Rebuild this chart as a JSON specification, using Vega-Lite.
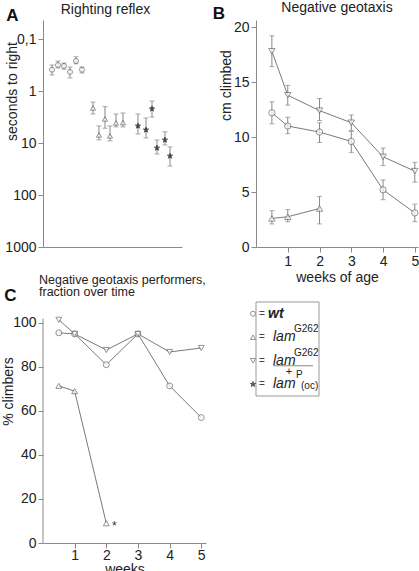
{
  "$schema": "https://vega.github.io/schema/vega-lite/v6.json",
  "background": "white",
  "padding": {"left": 1, "top": 0, "right": 2, "bottom": 0},
  "config": {
    "font": "Liberation Sans",
    "view": {"stroke": null},
    "axis": {"domainColor": "#8a8a8a", "tickColor": "#8a8a8a", "labelColor": "#222", "titleColor": "#222", "labelFontSize": 14, "titleFontSize": 14, "titleFontWeight": "normal", "grid": false, "tickSize": 5, "labelPadding": 2},
    "title": {"fontWeight": "normal", "color": "#222"}
  },
  "datasets": {
    "righting": [
      {"idx": 1.5, "genotype": "wt", "val": 0.39, "lo": 0.316, "hi": 0.49},
      {"idx": 2.5, "genotype": "wt", "val": 0.316, "lo": 0.265, "hi": 0.36},
      {"idx": 3.5, "genotype": "wt", "val": 0.33, "lo": 0.29, "hi": 0.38},
      {"idx": 4.5, "genotype": "wt", "val": 0.43, "lo": 0.345, "hi": 0.56},
      {"idx": 5.5, "genotype": "wt", "val": 0.265, "lo": 0.22, "hi": 0.30},
      {"idx": 6.5, "genotype": "wt", "val": 0.39, "lo": 0.345, "hi": 0.45},
      {"idx": 8.33, "genotype": "lamG262", "val": 2.12, "lo": 1.63, "hi": 2.77},
      {"idx": 9.33, "genotype": "lamG262", "val": 7.0, "lo": 4.7, "hi": 8.7},
      {"idx": 10.33, "genotype": "lamG262", "val": 3.45, "lo": 2.0, "hi": 5.2},
      {"idx": 11.17, "genotype": "lamG262", "val": 7.3, "lo": 4.7, "hi": 9.1},
      {"idx": 12.17, "genotype": "lamG262", "val": 4.1, "lo": 2.77, "hi": 4.9},
      {"idx": 13.33, "genotype": "lamG262", "val": 4.05, "lo": 2.65, "hi": 4.9},
      {"idx": 15.83, "genotype": "lamP", "val": 4.7, "lo": 2.77, "hi": 6.7},
      {"idx": 17.17, "genotype": "lamP", "val": 5.6, "lo": 3.3, "hi": 8.0},
      {"idx": 18.17, "genotype": "lamP", "val": 2.2, "lo": 1.56, "hi": 3.16},
      {"idx": 19.0, "genotype": "lamP", "val": 12.5, "lo": 8.75, "hi": 16.3},
      {"idx": 20.33, "genotype": "lamP", "val": 8.75, "lo": 6.1, "hi": 10.9},
      {"idx": 21.17, "genotype": "lamP", "val": 17.8, "lo": 11.9, "hi": 27.7}
    ],
    "geotaxis": [
      {"week": 0.5, "genotype": "wt", "mean": 12.2, "lo": 11.2, "hi": 13.2},
      {"week": 1, "genotype": "wt", "mean": 11.0, "lo": 10.3, "hi": 11.8},
      {"week": 2, "genotype": "wt", "mean": 10.45, "lo": 9.5, "hi": 11.3},
      {"week": 3, "genotype": "wt", "mean": 9.6, "lo": 8.6, "hi": 10.5},
      {"week": 4, "genotype": "wt", "mean": 5.2, "lo": 4.3, "hi": 6.1},
      {"week": 5, "genotype": "wt", "mean": 3.1, "lo": 2.3, "hi": 3.9},
      {"week": 0.5, "genotype": "lamG262/+", "mean": 17.8, "lo": 16.4, "hi": 19.2},
      {"week": 1, "genotype": "lamG262/+", "mean": 13.8, "lo": 12.9, "hi": 14.7},
      {"week": 2, "genotype": "lamG262/+", "mean": 12.4, "lo": 11.5, "hi": 13.5},
      {"week": 3, "genotype": "lamG262/+", "mean": 11.3, "lo": 10.6, "hi": 12.0},
      {"week": 4, "genotype": "lamG262/+", "mean": 8.2, "lo": 7.4, "hi": 9.0},
      {"week": 5, "genotype": "lamG262/+", "mean": 6.9, "lo": 5.9, "hi": 7.7},
      {"week": 0.5, "genotype": "lamG262", "mean": 2.6, "lo": 2.1, "hi": 3.3},
      {"week": 1, "genotype": "lamG262", "mean": 2.75, "lo": 2.3, "hi": 3.4},
      {"week": 2, "genotype": "lamG262", "mean": 3.5, "lo": 2.1, "hi": 4.6}
    ],
    "performers": [
      {"week": 0.5, "genotype": "wt", "pct": 95.5},
      {"week": 1, "genotype": "wt", "pct": 95},
      {"week": 2, "genotype": "wt", "pct": 81},
      {"week": 3, "genotype": "wt", "pct": 95},
      {"week": 4, "genotype": "wt", "pct": 71.4},
      {"week": 5, "genotype": "wt", "pct": 57},
      {"week": 0.5, "genotype": "lamG262/+", "pct": 101.4},
      {"week": 1, "genotype": "lamG262/+", "pct": 95},
      {"week": 2, "genotype": "lamG262/+", "pct": 87.7},
      {"week": 3, "genotype": "lamG262/+", "pct": 95},
      {"week": 4, "genotype": "lamG262/+", "pct": 86.8},
      {"week": 5, "genotype": "lamG262/+", "pct": 88.6},
      {"week": 0.5, "genotype": "lamG262", "pct": 71.4},
      {"week": 1, "genotype": "lamG262", "pct": 69},
      {"week": 2, "genotype": "lamG262", "pct": 9, "note": "*"}
    ],
    "legend": [
      {"genotype": "wt", "name": "wt"},
      {"genotype": "lamG262", "name": "lam", "sup": "G262"},
      {"genotype": "lamG262/+", "name": "lam", "sup": "G262", "den": "+"},
      {"genotype": "lamP", "name": "lam", "sup": "P", "sub": "(oc)"}
    ]
  },
  "columns": 2,
  "spacing": {"column": 50, "row": 55},
  "bounds": "flush",
  "align": "each",
  "concat": [
    {
      "width": 139,
      "height": 227,
      "title": {"text": "Righting reflex", "fontSize": 14, "anchor": "middle", "frame": "group", "dx": -7, "offset": -10},
      "data": {"name": "righting"},
      "layer": [
        {
          "mark": {"type": "errorbar", "ticks": {"size": 5}, "color": "#888"},
          "encoding": {
            "x": {"field": "idx", "type": "quantitative", "scale": {"domain": [0, 23.17], "nice": false, "zero": false}, "axis": {"labels": false, "ticks": false, "title": null}},
            "y": {"field": "lo", "type": "quantitative", "scale": {"type": "log", "domain": [0.0431, 1000], "reverse": true, "nice": false}, "axis": {"values": [0.1, 1, 10, 100, 1000], "labelExpr": "datum.value < 1 ? '0,1' : format(datum.value, 'd')", "title": "seconds to right", "titleX": -31, "titleY": 71, "titleBaseline": "middle"}},
            "y2": {"field": "hi"}
          }
        },
        {
          "mark": {"type": "point", "filled": true, "strokeWidth": 1},
          "encoding": {
            "x": {"field": "idx", "type": "quantitative"},
            "y": {"field": "val", "type": "quantitative", "title": "seconds to right"},
            "shape": {"field": "genotype", "type": "nominal", "scale": {"domain": ["wt", "lamG262", "lamG262/+", "lamP"], "range": ["circle", "triangle-up", "triangle-down", "M0,-1L0.2245,-0.309L0.951,-0.309L0.363,0.118L0.588,0.809L0,0.382L-0.588,0.809L-0.363,0.118L-0.951,-0.309L-0.2245,-0.309Z"]}, "legend": null},
            "size": {"field": "genotype", "type": "nominal", "scale": {"domain": ["wt", "lamG262", "lamG262/+", "lamP"], "range": [25, 30, 30, 110]}, "legend": null},
            "fill": {"field": "genotype", "type": "nominal", "scale": {"domain": ["wt", "lamG262", "lamG262/+", "lamP"], "range": ["white", "white", "white", "#111"]}, "legend": null},
            "stroke": {"field": "genotype", "type": "nominal", "scale": {"domain": ["wt", "lamG262", "lamG262/+", "lamP"], "range": ["#666", "#666", "#666", "#111"]}, "legend": null}
          }
        },
        {
          "data": {"values": [{"letter": "A"}]},
          "mark": {"type": "text", "fontSize": 17, "fontWeight": "bold", "color": "#111", "dx": -100, "dy": -118},
          "encoding": {"text": {"field": "letter"}}
        }
      ]
    },
    {
      "width": 162,
      "height": 227,
      "title": {"text": "Negative geotaxis", "fontSize": 14, "anchor": "middle", "frame": "group", "offset": -10},
      "data": {"name": "geotaxis"},
      "layer": [
        {
          "mark": {"type": "line", "color": "#7a7a7a", "strokeWidth": 1},
          "encoding": {
            "x": {"field": "week", "type": "quantitative", "scale": {"domain": [0, 5.1], "nice": false, "zero": false}, "axis": {"values": [1, 2, 3, 4, 5], "title": "weeks of age", "titleY": 30, "titleBaseline": "middle"}},
            "y": {"field": "mean", "type": "quantitative", "scale": {"domain": [0, 20.64], "nice": false}, "axis": {"values": [0, 5, 10, 15, 20], "title": "cm climbed", "titleX": -30, "titleY": 65, "titleBaseline": "middle"}},
            "detail": {"field": "genotype"}
          }
        },
        {
          "mark": {"type": "errorbar", "ticks": {"size": 5}, "color": "#888"},
          "encoding": {
            "x": {"field": "week", "type": "quantitative", "title": "weeks of age"},
            "y": {"field": "lo", "type": "quantitative", "title": "cm climbed"},
            "y2": {"field": "hi"}
          }
        },
        {
          "mark": {"type": "point", "filled": true, "size": 40, "strokeWidth": 1},
          "encoding": {
            "x": {"field": "week", "type": "quantitative", "title": "weeks of age"},
            "y": {"field": "mean", "type": "quantitative", "title": "cm climbed"},
            "shape": {"field": "genotype", "type": "nominal", "scale": {"domain": ["wt", "lamG262", "lamG262/+", "lamP"], "range": ["circle", "triangle-up", "triangle-down", "M0,-1L0.2245,-0.309L0.951,-0.309L0.363,0.118L0.588,0.809L0,0.382L-0.588,0.809L-0.363,0.118L-0.951,-0.309L-0.2245,-0.309Z"]}, "legend": null},
            "fill": {"field": "genotype", "type": "nominal", "scale": {"domain": ["wt", "lamG262", "lamG262/+", "lamP"], "range": ["white", "white", "white", "#111"]}, "legend": null},
            "stroke": {"field": "genotype", "type": "nominal", "scale": {"domain": ["wt", "lamG262", "lamG262/+", "lamP"], "range": ["#666", "#666", "#666", "#111"]}, "legend": null}
          }
        },
        {
          "data": {"values": [{"letter": "B"}]},
          "mark": {"type": "text", "fontSize": 17, "fontWeight": "bold", "color": "#111", "dx": -118, "dy": -120},
          "encoding": {"text": {"field": "letter"}}
        }
      ]
    },
    {
      "width": 163,
      "height": 241,
      "title": {"text": ["Negative geotaxis performers,", "fraction over time"], "fontSize": 12.5, "anchor": "start", "frame": "group", "dx": -4, "offset": -12, "lineHeight": 12.5},
      "data": {"name": "performers"},
      "layer": [
        {
          "data": {"values": [{}]},
          "mark": {"type": "rule", "color": "#8a8a8a"},
          "encoding": {"x": {"datum": 0, "type": "quantitative"}, "y": {"datum": 0, "type": "quantitative"}, "y2": {"datum": 102}}
        },
        {
          "mark": {"type": "line", "color": "#7a7a7a", "strokeWidth": 1},
          "encoding": {
            "x": {"field": "week", "type": "quantitative", "scale": {"domain": [0, 5.15], "nice": false, "zero": false}, "axis": {"values": [1, 2, 3, 4, 5], "labelPadding": 0, "title": "weeks", "titleY": 26, "titleBaseline": "middle"}},
            "y": {"field": "pct", "type": "quantitative", "scale": {"domain": [0, 109.5], "nice": false}, "axis": {"values": [0, 20, 40, 60, 80, 100], "domain": false, "title": "% climbers", "titleX": -35, "titleY": 89, "titleBaseline": "middle"}},
            "detail": {"field": "genotype"}
          }
        },
        {
          "mark": {"type": "point", "filled": true, "size": 35, "strokeWidth": 1},
          "encoding": {
            "x": {"field": "week", "type": "quantitative", "title": "weeks"},
            "y": {"field": "pct", "type": "quantitative", "title": "% climbers"},
            "shape": {"field": "genotype", "type": "nominal", "scale": {"domain": ["wt", "lamG262", "lamG262/+", "lamP"], "range": ["circle", "triangle-up", "triangle-down", "M0,-1L0.2245,-0.309L0.951,-0.309L0.363,0.118L0.588,0.809L0,0.382L-0.588,0.809L-0.363,0.118L-0.951,-0.309L-0.2245,-0.309Z"]}, "legend": null},
            "fill": {"field": "genotype", "type": "nominal", "scale": {"domain": ["wt", "lamG262", "lamG262/+", "lamP"], "range": ["white", "white", "white", "#111"]}, "legend": null},
            "stroke": {"field": "genotype", "type": "nominal", "scale": {"domain": ["wt", "lamG262", "lamG262/+", "lamP"], "range": ["#666", "#666", "#666", "#111"]}, "legend": null}
          }
        },
        {
          "transform": [{"filter": "datum.note != null"}],
          "mark": {"type": "text", "fontSize": 12, "dx": 8, "dy": 3, "color": "#333"},
          "encoding": {"x": {"field": "week", "type": "quantitative", "title": "weeks"}, "y": {"field": "pct", "type": "quantitative", "title": "% climbers"}, "text": {"field": "note"}}
        },
        {
          "data": {"values": [{"letter": "C"}]},
          "mark": {"type": "text", "fontSize": 17, "fontWeight": "bold", "color": "#111", "dx": -114, "dy": -127},
          "encoding": {"text": {"field": "letter"}}
        }
      ]
    },
    {
      "width": 72,
      "height": 94,
      "data": {"name": "legend"},
      "layer": [
        {
          "data": {"values": [{}]},
          "mark": {"type": "rect", "fill": "white", "stroke": "#999", "strokeWidth": 1, "xOffset": -9},
          "encoding": {}
        },
        {
          "encoding": {
            "y": {"field": "genotype", "type": "nominal", "scale": {"type": "point", "domain": ["wt", "lamG262", "lamG262/+", "lamP"], "padding": 0.5}, "axis": null}
          },
          "layer": [
            {
              "mark": {"type": "point", "filled": true, "strokeWidth": 1, "xOffset": -39},
              "encoding": {
                "shape": {"field": "genotype", "type": "nominal", "scale": {"domain": ["wt", "lamG262", "lamG262/+", "lamP"], "range": ["circle", "triangle-up", "triangle-down", "M0,-1L0.2245,-0.309L0.951,-0.309L0.363,0.118L0.588,0.809L0,0.382L-0.588,0.809L-0.363,0.118L-0.951,-0.309L-0.2245,-0.309Z"]}, "legend": null},
                "size": {"field": "genotype", "type": "nominal", "scale": {"domain": ["wt", "lamG262", "lamG262/+", "lamP"], "range": [22, 28, 28, 90]}, "legend": null},
                "fill": {"field": "genotype", "type": "nominal", "scale": {"domain": ["wt", "lamG262", "lamG262/+", "lamP"], "range": ["white", "white", "white", "#111"]}, "legend": null},
                "stroke": {"field": "genotype", "type": "nominal", "scale": {"domain": ["wt", "lamG262", "lamG262/+", "lamP"], "range": ["#666", "#666", "#666", "#111"]}, "legend": null}
              }
            },
            {
              "mark": {"type": "text", "text": "=", "fontSize": 10, "dx": -30, "color": "#444"}
            },
            {
              "transform": [{"filter": "datum.genotype == 'wt'"}],
              "mark": {"type": "text", "fontSize": 14, "fontStyle": "italic", "fontWeight": "bold", "align": "left", "dx": -24, "color": "#222"},
              "encoding": {"text": {"field": "name"}}
            },
            {
              "transform": [{"filter": "datum.genotype != 'wt'"}],
              "mark": {"type": "text", "fontSize": 14, "fontStyle": "italic", "align": "left", "dx": -19, "color": "#222"},
              "encoding": {"text": {"field": "name"}}
            },
            {
              "transform": [{"filter": "datum.sup != null && datum.sub == null"}],
              "mark": {"type": "text", "fontSize": 10, "align": "left", "dx": 2, "dy": -8, "color": "#222"},
              "encoding": {"text": {"field": "sup"}}
            },
            {
              "transform": [{"filter": "datum.sub != null"}],
              "mark": {"type": "text", "fontSize": 10, "align": "left", "dx": 4, "dy": -9, "color": "#222"},
              "encoding": {"text": {"field": "sup"}}
            },
            {
              "transform": [{"filter": "datum.sub != null"}],
              "mark": {"type": "text", "fontSize": 10, "align": "left", "dx": 9, "dy": 2, "color": "#222"},
              "encoding": {"text": {"field": "sub"}}
            },
            {
              "transform": [{"filter": "datum.den != null"}],
              "mark": {"type": "tick", "orient": "horizontal", "size": 40, "thickness": 1, "xOffset": 1, "yOffset": 5, "color": "#555"}
            },
            {
              "transform": [{"filter": "datum.den != null"}],
              "mark": {"type": "text", "fontSize": 11, "dx": -3, "dy": 11, "color": "#222"},
              "encoding": {"text": {"field": "den"}}
            }
          ]
        }
      ]
    }
  ]
}
